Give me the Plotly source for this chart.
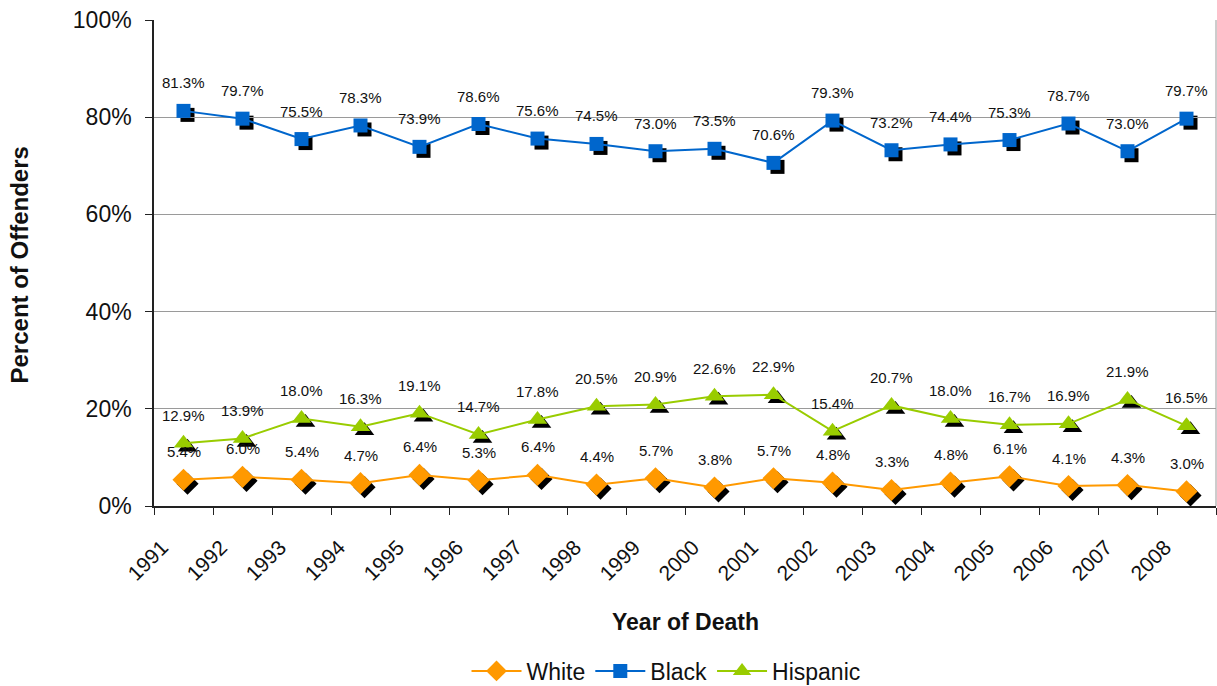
import plotly.graph_objects as go

years = list(range(1991, 2009))
white = [5.4, 6.0, 5.4, 4.7, 6.4, 5.3, 6.4, 4.4, 5.7, 3.8, 5.7, 4.8, 3.3, 4.8, 6.1, 4.1, 4.3, 3.0]
black = [81.3, 79.7, 75.5, 78.3, 73.9, 78.6, 75.6, 74.5, 73.0, 73.5, 70.6, 79.3, 73.2, 74.4, 75.3, 78.7, 73.0, 79.7]
hispanic = [12.9, 13.9, 18.0, 16.3, 19.1, 14.7, 17.8, 20.5, 20.9, 22.6, 22.9, 15.4, 20.7, 18.0, 16.7, 16.9, 21.9, 16.5]
y_ticks = [0, 20, 40, 60, 80, 100]
y_tick_labels = ["0%", "20%", "40%", "60%", "80%", "100%"]

series = [
    ("White", white, "#FF9900", "diamond", 17),
    ("Black", black, "#0066CC", "square", 14),
    ("Hispanic", hispanic, "#99CC00", "triangle-up", 17),
]

FONT = "Liberation Sans, Arial, sans-serif"
W, H = 1217, 686
ML, MR, MT, MB = 154, 0, 20, 176
PW = W - ML - MR          # 1063
PH = H - MT - MB          # 490
MAIN_W = 1062             # main plot px width
MAIN_H = 486              # main plot px height
SH = 4                    # shadow offset px

x_lo, x_hi = years[0] - 0.5, years[-1] + 0.5
shadow_w = PW - SH
shadow_x_hi = x_lo + (x_hi - x_lo) * shadow_w / MAIN_W

fig = go.Figure()

# shadows (bottom subplot)
for name, vals, color, sym, size in series:
    fig.add_trace(go.Scatter(
        x=years, y=vals, mode="markers", xaxis="x", yaxis="y",
        marker=dict(symbol=sym, size=size, color="black", line=dict(width=0)),
        showlegend=False, hoverinfo="skip"))

# main series (top subplot)
for name, vals, color, sym, size in series:
    fig.add_trace(go.Scatter(
        x=years, y=vals, mode="lines+markers", name=name, xaxis="x2", yaxis="y2",
        line=dict(color=color, width=2),
        marker=dict(symbol=sym, size=size, color=color, line=dict(width=0))))

annotations = []
for name, vals, color, sym, size in series:
    for yr, v in zip(years, vals):
        annotations.append(dict(
            x=yr, y=v, xref="x2", yref="y2", text=f"{v:.1f}%", showarrow=False,
            yshift=28, yanchor="middle", xanchor="center",
            font=dict(family=FONT, size=15, color="#111")))

annotations.append(dict(
    x=(685 - ML) / PW, y=(MT + PH - 622) / PH, xref="paper", yref="paper",
    text="<b>Year of Death</b>", showarrow=False, xanchor="center", yanchor="middle",
    font=dict(family=FONT, size=23, color="#111")))
annotations.append(dict(
    x=(18.5 - ML) / PW, y=(MT + PH - 265) / PH, xref="paper", yref="paper",
    text="<b>Percent of Offenders</b>", showarrow=False, textangle=-90,
    xanchor="center", yanchor="middle",
    font=dict(family=FONT, size=24, color="#111")))

tickvals = [yr - 0.5 for yr in years] + [x_hi]
ticktext = [str(yr) for yr in years] + [""]

fig.update_layout(
    width=W, height=H,
    margin=dict(l=ML, r=MR, t=MT, b=MB, autoexpand=False),
    paper_bgcolor="white", plot_bgcolor="rgba(0,0,0,0)",
    font=dict(family=FONT, color="#111"),
    xaxis=dict(domain=[SH / PW, 1], range=[x_lo, shadow_x_hi], visible=False, fixedrange=True),
    yaxis=dict(domain=[0, MAIN_H / PH], range=[0, 100], visible=False, fixedrange=True),
    xaxis2=dict(domain=[0, MAIN_W / PW], range=[x_lo, x_hi], anchor="y2",
                tickvals=tickvals, ticktext=ticktext, tickangle=-45,
                ticks="outside", ticklen=7, tickcolor="#222", showgrid=False,
                ticklabelstandoff=12, ticklabelshift=8,
                showline=True, linecolor="#222", linewidth=1.5, zeroline=False,
                tickfont=dict(family=FONT, size=21, color="#111")),
    yaxis2=dict(domain=[(PH - MAIN_H) / PH, 1], range=[0, 100], anchor="x2",
                tickvals=y_ticks, ticktext=y_tick_labels,
                ticks="outside", ticklen=7, tickcolor="#222", ticklabelstandoff=9,
                showgrid=True, gridcolor="#9A9A9A", gridwidth=1,
                showline=True, linecolor="#222", linewidth=1.5, zeroline=False,
                tickfont=dict(family=FONT, size=23, color="#111")),
    legend=dict(orientation="h", x=(666 - ML) / PW, y=(MT + PH - 671) / PH,
                xanchor="center", yanchor="middle",
                font=dict(family=FONT, size=23, color="#111"), itemwidth=50),
    annotations=annotations,
    shapes=[dict(type="line", xref="x2 domain", yref="y2 domain", x0=1, x1=1, y0=0, y1=1,
                 line=dict(color="#9A9A9A", width=1))],
    showlegend=True,
)

fig.write_html(
    "out.html",
    config={"displayModeBar": False},
    post_script="document.body.style.margin='0px';document.body.style.overflow='hidden';",
)
